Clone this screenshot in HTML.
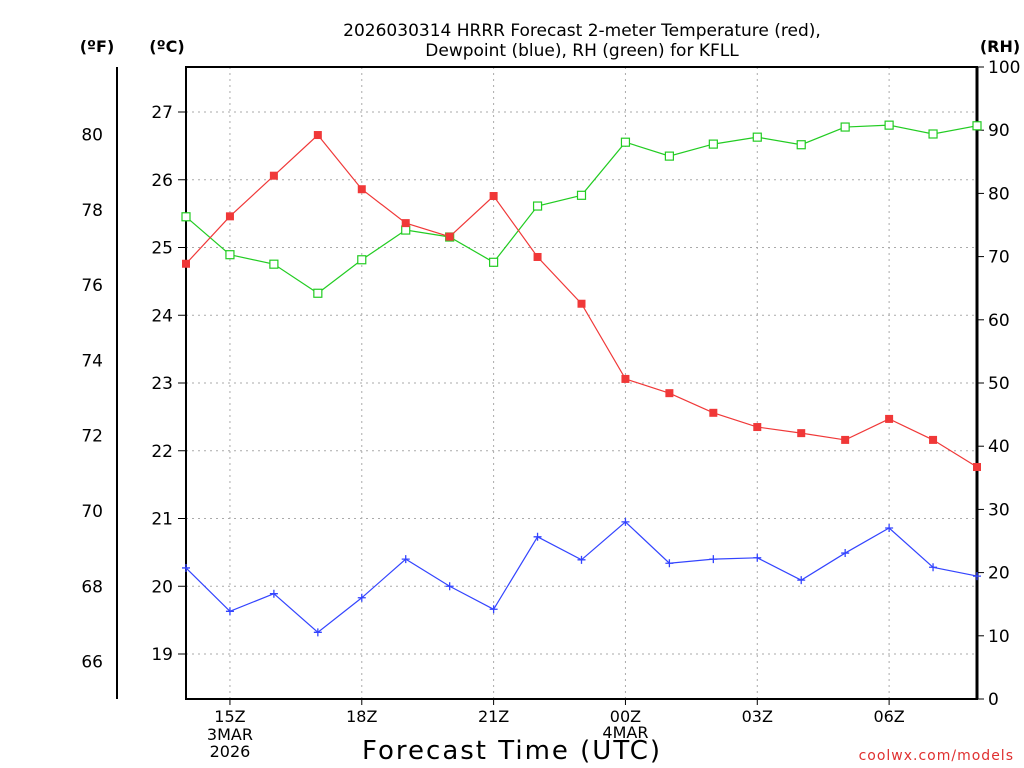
<!DOCTYPE html>
<html><head><meta charset="utf-8"><style>
html,body{margin:0;padding:0;background:#fff;}
svg{display:block;font-family:"DejaVu Sans","Liberation Sans",sans-serif;}
</style></head><body>
<svg id="chart" width="1024" height="768" viewBox="0 0 1024 768" xmlns="http://www.w3.org/2000/svg">
<text x="582" y="36" text-anchor="middle" font-size="17" fill="#000">2026030314 HRRR Forecast 2-meter Temperature (red),</text>
<text x="582" y="56" text-anchor="middle" font-size="17" fill="#000">Dewpoint (blue), RH (green) for KFLL</text>
<text x="97" y="52" text-anchor="middle" font-size="16" font-weight="bold">(ºF)</text>
<text x="167" y="52" text-anchor="middle" font-size="16" font-weight="bold">(ºC)</text>
<text x="1000" y="52" text-anchor="middle" font-size="16" font-weight="bold">(RH)</text>
<text x="512" y="759" text-anchor="middle" font-size="26" letter-spacing="2">Forecast Time (UTC)</text>
<text x="1014" y="760" text-anchor="end" font-size="14" fill="#e03030" letter-spacing="1">coolwx.com/models</text>
<g id="grid"></g><g id="axes"></g><g id="series"></g>
</svg>
<script>
const hours = ["14","15","16","17","18","19","20","21","22","23","00","01","02","03","04","05","06","07","08"];
const xTickLabels = ["15Z","18Z","21Z","00Z","03Z","06Z"];
const xTickIdx = [1,4,7,10,13,16];
const tempC = [24.76,25.46,26.06,26.66,25.86,25.36,25.16,25.76,24.86,24.17,23.06,22.85,22.56,22.35,22.26,22.16,22.47,22.16,21.76];
const dewC = [20.27,19.63,19.89,19.32,19.83,20.40,20.00,19.66,20.73,20.39,20.95,20.34,20.40,20.42,20.09,20.49,20.86,20.28,20.15];
const rh = [76.3,70.3,68.8,64.2,69.5,74.2,73.1,69.1,78.0,79.7,88.1,85.9,87.8,88.9,87.7,90.5,90.8,89.4,90.7];
const cTicks = [19,20,21,22,23,24,25,26,27];
const fTicks = [66,68,70,72,74,76,78,80];
const rhTicks = [0,10,20,30,40,50,60,70,80,90,100];

const NS="http://www.w3.org/2000/svg";
const L=186,R=977,T=67,B=699;
const xS=i=>L+i*(R-L)/(hours.length-1);
const yC=c=>112+(27-c)*67.75;
const yF=f=>yC((f-32)/1.8);
const yR=r=>B-(r/100)*(B-T);
function mk(tag,attrs,parent,text){const e=document.createElementNS(NS,tag);for(const k in attrs)e.setAttribute(k,attrs[k]);if(text!==undefined)e.textContent=text;document.getElementById(parent).appendChild(e);return e;}

xTickIdx.forEach((idx,j)=>{
  const x=xS(idx);
  const g=mk('line',{x1:x,x2:x,y1:T,y2:B,stroke:'#aaa','stroke-dasharray':'2,4'},'grid');
  
  
  const tk=mk('line',{x1:x,x2:x,y1:B,y2:B+6,stroke:'#000'},'axes');
  
  
  const t=mk('text',{x:x,y:722,'text-anchor':'middle','font-size':'16'},'axes',xTickLabels[j]);
  
  
});
[["3MAR",1,740],["2026",1,757],["4MAR",10,738]].forEach(d=>{
  const t=mk('text',{x:xS(d[1]),y:d[2],'text-anchor':'middle','font-size':'16'},'axes',d[0]);
  
  
});
cTicks.forEach(c=>{
  const y=yC(c);
  const g=mk('line',{x1:L,x2:R,y1:y,y2:y,stroke:'#aaa','stroke-dasharray':'2,4'},'grid');
  
  
  const tk=mk('line',{x1:L-8,x2:L,y1:y,y2:y,stroke:'#000'},'axes');
  
  
  const t=mk('text',{x:173,y:y+6,'text-anchor':'end','font-size':'17'},'axes',c);
  
  
});
fTicks.forEach(f=>{
  const y=yF(f);
  const t=mk('text',{x:103,y:y+6,'text-anchor':'end','font-size':'17'},'axes',f);
  
  
});
rhTicks.forEach(r=>{
  const y=yR(r);
  const tk=mk('line',{x1:R,x2:R+7,y1:y,y2:y,stroke:'#000'},'axes');
  
  
  const t=mk('text',{x:988,y:y+6,'font-size':'17'},'axes',r);
  
  
});
const fa=mk('line',{x1:117,x2:117,y1:T,y2:B,stroke:'#000','stroke-width':2},'axes');


const fr=mk('rect',{x:L,y:T,width:R-L,height:B-T,fill:'none',stroke:'#000','stroke-width':2},'axes');


const ra=mk('line',{x1:R,x2:R,y1:T,y2:B,stroke:'#000','stroke-width':3},'axes');



function series(vals,yf,color,kind,name){
  const pts=vals.map((v,i)=>xS(i)+','+yf(v)).join(' ');
  const pl=mk('polyline',{points:pts,fill:'none',stroke:color,'stroke-width':1.2},'series');
  
  
  vals.forEach((v,i)=>{
    const x=xS(i),y=yf(v);let m;
    if(kind==='fill') m=mk('rect',{x:x-4,y:y-4,width:8,height:8,fill:color},'series');
    else if(kind==='open') m=mk('rect',{x:x-4,y:y-4,width:8,height:8,fill:'#fff',stroke:color,'stroke-width':1.2},'series');
    else m=mk('path',{d:`M${x-4},${y}H${x+4}M${x},${y-4}V${y+4}`,stroke:color,'stroke-width':1.3},'series');
    
    
  });
}
series(rh,yR,'#22cc22','open','rh');
series(tempC,yC,'#f03838','fill','temperature');
series(dewC,yC,'#3344ff','plus','dewpoint');
</script>
</body></html>
